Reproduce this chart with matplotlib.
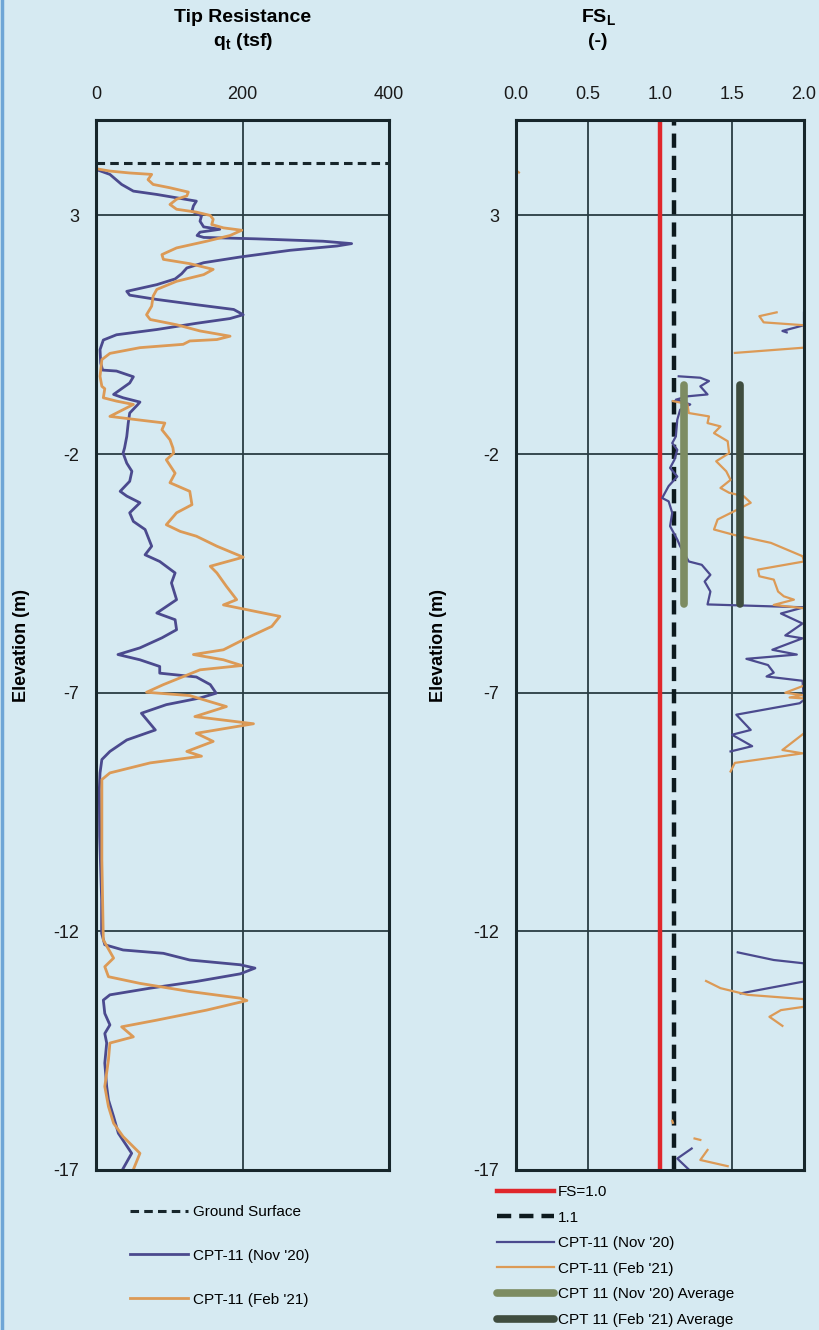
import numpy as np
import matplotlib.pyplot as plt
from matplotlib import font_manager
from matplotlib.lines import Line2D

# narrow Arial-like face for all labels, fall back if Narrow is missing
narrow = 'Liberation Sans Narrow'
if narrow not in {f.name for f in font_manager.fontManager.ttflist}:
    narrow = 'Liberation Sans'
plt.rcParams['font.family'] = [narrow, 'DejaVu Sans']
plt.rcParams['axes.unicode_minus'] = False
plt.rcParams['mathtext.fontset'] = 'custom'
plt.rcParams['mathtext.rm'] = narrow + ':bold'
plt.rcParams['mathtext.it'] = narrow + ':bold'
plt.rcParams['mathtext.bf'] = narrow + ':bold'

bg = '#d6eaf2'
c_nov = '#4b4a8e'
c_feb = '#dc9a56'
c_grid = '#2a3d43'
c_frame = '#17262b'

ground_elev = 4.1
fs_limit = 1.0
fs_target = 1.1

# ---- tip resistance qt (tsf) vs elevation (m)
elev_nov = [3.96, 3.86, 3.65, 3.51, 3.44, 3.37, 3.30, 3.20, 3.09, 2.99,
            2.88, 2.76, 2.71, 2.65, 2.58, 2.54, 2.51, 2.46, 2.41, 2.36,
            2.27, 2.13, 2.01, 1.90, 1.78, 1.67, 1.55, 1.41, 1.33, 1.24,
            1.13, 1.03, 0.92, 0.84, 0.74, 0.61, 0.50, 0.39, 0.19, -0.09,
            -0.24, -0.26, -0.38, -0.51, -0.75, -0.82, -0.91, -0.98, -1.14, -1.35,
            -1.63, -1.87, -1.98, -2.19, -2.36, -2.57, -2.78, -2.88, -3.02, -3.23,
            -3.41, -3.58, -3.93, -4.11, -4.25, -4.49, -4.70, -5.05, -5.33, -5.47,
            -5.68, -5.85, -6.06, -6.20, -6.31, -6.45, -6.59, -6.67, -6.83, -7.01,
            -7.11, -7.25, -7.43, -7.78, -7.99, -8.23, -8.40, -8.68, -9.03, -10.0,
            -11.34, -12.04, -12.28, -12.39, -12.46, -12.60, -12.70, -12.77, -12.89, -13.05,
            -13.19, -13.33, -13.44, -13.72, -13.96, -14.14, -14.34, -14.76, -15.25, -15.53,
            -15.88, -16.23, -16.65, -16.97]
qt_nov = [1, 19, 35, 51, 83, 110, 137, 133, 131, 144,
          142, 147, 169, 142, 138, 147, 219, 310, 349, 329,
          265, 197, 147, 124, 117, 108, 83, 42, 46, 83,
          137, 188, 201, 183, 137, 83, 28, 10, 5.5, 6.4,
          9, 28, 51, 46, 24, 37, 60, 56, 46, 44,
          42, 39, 37, 42, 49, 46, 33, 42, 60, 46,
          51, 67, 76, 67, 87, 108, 103, 110, 83, 108,
          110, 90, 60, 30, 60, 87, 87, 137, 156, 164,
          142, 96, 62, 81, 42, 19, 8, 5.5, 4.5, 5,
          7.7, 7.7, 12, 37, 92, 128, 197, 217, 197, 137,
          74, 19, 10, 12, 19, 12, 14.6, 12, 14.6, 17,
          24, 30.5, 48.7, 37]

elev_feb = [3.98, 3.93, 3.89, 3.86, 3.75, 3.65, 3.58, 3.49, 3.41, 3.34,
            3.23, 3.13, 3.07, 3.00, 2.92, 2.81, 2.74, 2.69, 2.58, 2.46,
            2.32, 2.18, 2.08, 1.99, 1.87, 1.76, 1.62, 1.45, 1.31, 1.10,
            0.92, 0.82, 0.71, 0.58, 0.47, 0.40, 0.37, 0.30, 0.23, 0.11,
            -0.02, -0.37, -0.58, -0.63, -0.82, -0.89, -0.96, -1.21, -1.28, -1.35,
            -1.49, -1.70, -1.87, -1.98, -2.12, -2.40, -2.60, -2.78, -3.06, -3.23,
            -3.48, -3.62, -3.72, -3.93, -4.16, -4.35, -4.49, -4.77, -5.05, -5.16,
            -5.26, -5.40, -5.61, -5.89, -6.10, -6.20, -6.31, -6.43, -6.52, -6.83,
            -6.99, -7.06, -7.29, -7.50, -7.65, -7.85, -8.02, -8.23, -8.33, -8.47,
            -8.68, -8.82, -9.03, -10.5, -11.34, -12.18, -12.56, -12.74, -12.95, -13.09,
            -13.26, -13.40, -13.45, -13.65, -13.86, -14.00, -14.21, -14.34, -14.69, -15.25,
            -15.67, -16.02, -16.30, -16.65, -16.99]
qt_feb = [0, 19, 46, 76, 71, 78, 101, 126, 124, 110,
          101, 110, 137, 156, 160, 158, 174, 199, 183, 151,
          110, 90, 92, 128, 160, 147, 110, 83, 78, 76,
          69, 74, 110, 142, 183, 165, 128, 119, 60, 19,
          8, 5.5, 8, 12, 10, 28, 51, 19, 56, 94,
          90, 101, 105, 106, 96, 108, 101, 128, 131, 110,
          96, 115, 137, 165, 201, 156, 165, 178, 192, 174,
          206, 251, 240, 201, 174, 133, 174, 199, 142, 92,
          69, 128, 178, 135, 215, 137, 160, 124, 144, 74,
          19, 8, 8, 8, 9, 10, 24, 12, 17, 60,
          128, 197, 206, 151, 83, 35, 51, 19, 17, 12,
          17, 24, 37, 60, 51]

# ---- factor of safety against liquefaction (NaN = break in trace)
nan = np.nan
fs_elev_nov = [0.96, 0.70, 0.58, 0.55, nan,
               -0.37, -0.40, -0.47, -0.58, -0.75, -0.79, -0.86, -0.96, -1.07, -1.28,
               -1.63, -1.77, -1.91, -2.12, -2.29, -2.47, -2.67, -2.92, -2.99, -3.23,
               -3.51, -3.79, -3.93, -4.25, -4.32, -4.53, -4.67, -4.88, -5.15, -5.19,
               -5.21, -5.34, -5.55, -5.80, -5.86, -6.10, -6.20, -6.29, -6.42, -6.58,
               -6.66, -6.75, -7.15, -7.22, -7.46, -7.78, -7.88, -8.12, -8.23, nan,
               -12.44, -12.60, -12.67, -13.05, -13.30, nan,
               -16.55, -16.76, -16.99]
fs_nov = [2.0, 2.0, 1.85, 1.88, nan,
          1.13, 1.28, 1.34, 1.28, 1.33, 1.19, 1.11, 1.21, 1.14, 1.12,
          1.11, 1.085, 1.12, 1.10, 1.07, 1.12, 1.06, 1.015, 1.06, 1.085,
          1.07, 1.12, 1.14, 1.20, 1.29, 1.35, 1.31, 1.35, 1.33, 1.77,
          2.0, 1.84, 1.99, 1.87, 1.99, 1.78, 1.95, 1.60, 1.75, 1.79,
          1.74, 1.99, 2.0, 1.97, 1.53, 1.63, 1.50, 1.64, 1.49, nan,
          1.54, 1.79, 2.0, 2.0, 1.56, nan,
          1.22, 1.12, 1.20]

fs_elev_feb = [3.95, 3.90, nan,
               0.97, 0.89, 0.76, 0.70, 0.23, 0.12, nan,
               -0.89, -0.95, -1.14, -1.21, -1.35, -1.42, -1.56, -1.73, -1.98, -2.15,
               -2.36, -2.54, -2.71, -2.81, -2.88, -3.02, -3.16, -3.37, -3.58, -3.69,
               -3.86, -4.14, -4.25, -4.42, -4.56, -4.63, -4.88, -4.98, -5.05, -5.16,
               -5.23, -6.85, -7.00, -7.05, -7.10, -7.12, -7.85, -8.20, -8.27, -8.47,
               -8.65, nan,
               -13.04, -13.19, -13.33, -13.42, -13.58, -13.65, -13.79, -13.98, nan,
               -15.97, -16.01, nan, -16.34, -16.37, nan,
               -16.58, -16.79, -16.92]
fs_feb = [0.0, 0.02, nan,
          1.81, 1.69, 1.72, 2.0, 2.0, 1.52, nan,
          1.09, 1.19, 1.20, 1.34, 1.33, 1.42, 1.375, 1.47, 1.48, 1.39,
          1.46, 1.49, 1.42, 1.48, 1.58, 1.63, 1.54, 1.40, 1.375, 1.51,
          1.77, 1.99, 2.0, 1.68, 1.69, 1.79, 1.82, 1.86, 1.93, 1.79,
          2.0, 2.0, 1.87, 1.99, 1.90, 2.0, 2.0, 1.85, 1.99, 1.52,
          1.49, nan,
          1.32, 1.42, 1.61, 2.0, 2.0, 1.84, 1.76, 1.85, nan,
          1.085, 1.09, nan, 1.24, 1.28, nan,
          1.33, 1.28, 1.47]

avg_top, avg_bot = -0.55, -5.15
avg_nov = 1.17
avg_feb = 1.555

elev_ticks = [3, -2, -7, -12, -17]

fig = plt.figure(figsize=(8.19, 13.30), dpi=100, facecolor=bg)
# thin window edge on the left
fig.add_artist(Line2D([0.002, 0.002], [0, 1], color='#6fa6d6', lw=2.5,
                      transform=fig.transFigure))

ax1 = fig.add_axes([96/819, 1 - 1170/1330, 293/819, 1050/1330])
ax2 = fig.add_axes([516/819, 1 - 1170/1330, 288/819, 1050/1330])

for ax in (ax1, ax2):
    ax.set_facecolor(bg)
    ax.set_ylim(-17, 5)
    ax.set_yticks(elev_ticks)
    ax.xaxis.tick_top()
    ax.tick_params(length=0, labelsize=13, pad=12, colors='#1a1a1a')
    ax.grid(True, color=c_grid, lw=1.3)
    ax.set_axisbelow(True)
    for s in ax.spines.values():
        s.set_color(c_frame)
        s.set_linewidth(2.2)
    ax.set_ylabel('Elevation (m)', fontsize=13, fontweight='bold')

ax1.set_xlim(0, 400)
ax1.set_xticks([0, 200, 400])
ax1.yaxis.set_label_coords(-0.225, 0.5)
ax2.set_xlim(0, 2.0)
ax2.set_xticks([0.0, 0.5, 1.0, 1.5, 2.0])
ax2.set_xticklabels(['0.0', '0.5', '1.0', '1.5', '2.0'])
ax2.yaxis.set_label_coords(-0.24, 0.5)

# qt profiles
h_gs = ax1.axhline(ground_elev, color=c_frame, lw=2.2, dashes=(2.8, 1.7),
                   label='Ground Surface')
h1, = ax1.plot(qt_nov, elev_nov, color=c_nov, lw=2.0, label="CPT-11 (Nov '20)")
h2, = ax1.plot(qt_feb, elev_feb, color=c_feb, lw=2.0, label="CPT-11 (Feb '21)")

# FS profiles
r1 = ax2.axvline(fs_limit, color='#e0262b', lw=3.2, label='FS=1.0')
r2 = ax2.axvline(fs_target, color='#0d1a1e', lw=3.2, dashes=(3.2, 1.8), label='1.1')
r3, = ax2.plot(fs_nov, fs_elev_nov, color=c_nov, lw=1.6, label="CPT-11 (Nov '20)")
r4, = ax2.plot(fs_feb, fs_elev_feb, color=c_feb, lw=1.6, label="CPT-11 (Feb '21)")
r5, = ax2.plot([avg_nov, avg_nov], [avg_top, avg_bot], color='#7d8c62', lw=5.5,
               solid_capstyle='round', label="CPT 11 (Nov '20) Average")
r6, = ax2.plot([avg_feb, avg_feb], [avg_top, avg_bot], color='#3f4d3f', lw=5.5,
               solid_capstyle='round', label="CPT 11 (Feb '21) Average")

# column headings
fig.text(243/819, 1 - 17/1330, 'Tip Resistance', ha='center', va='center',
         fontsize=14, fontweight='bold')
fig.text(243/819, 1 - 41/1330, r'q$_\mathrm{t}$ (tsf)', ha='center', va='center',
         fontsize=14, fontweight='bold')
fig.text(598/819, 1 - 17/1330, r'FS$_\mathrm{L}$', ha='center', va='center',
         fontsize=14, fontweight='bold')
fig.text(598/819, 1 - 41/1330, '(-)', ha='center', va='center',
         fontsize=14, fontweight='bold')

leg1 = fig.legend(handles=[h_gs, h1, h2], loc='upper left',
                  bbox_to_anchor=(130/819, 1 - 1205/1330), frameon=False,
                  fontsize=11, handlelength=3.8, handletextpad=0.3,
                  labelspacing=1.95, borderpad=0, borderaxespad=0)
leg2 = fig.legend(handles=[r1, r2, r3, r4, r5, r6], loc='upper left',
                  bbox_to_anchor=(497/819, 1 - 1185/1330), frameon=False,
                  fontsize=11, handlelength=3.7, handletextpad=0.3,
                  labelspacing=0.76, borderpad=0, borderaxespad=0)

fig.savefig('out.png', dpi=100, facecolor=bg)
